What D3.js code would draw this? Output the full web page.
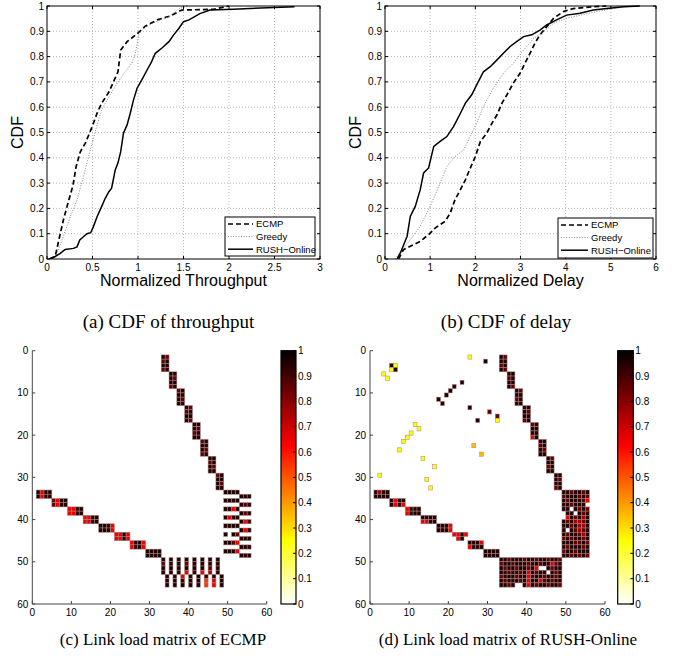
<!DOCTYPE html>
<html>
<head>
<meta charset="utf-8">
<script src="https://cdn.jsdelivr.net/npm/d3@7"></script>
<style>
body { margin: 0; background: #fff; }
svg text { font-family: "Liberation Sans", Arial, Helvetica, sans-serif; fill: #000; }
svg text.cap { font-family: "Liberation Serif", "Times New Roman", serif; }
</style>
</head>
<body>
<svg id="fig" width="678" height="656"></svg>
<script>
'use strict'

// ---- CDF data, [value, F(value)] ----
const tpEcmp = [[0.03,0],[0.09,0.01],[0.13,0.075],[0.18,0.154],[0.24,0.233],[0.285,0.29],[0.32,0.365],[0.366,0.424],[0.42,0.457],[0.49,0.517],[0.55,0.576],[0.60,0.615],[0.68,0.66],[0.73,0.70],[0.78,0.74],[0.81,0.826],[0.88,0.859],[0.99,0.89],[1.08,0.92],[1.21,0.945],[1.35,0.96],[1.48,0.984],[1.83,0.987],[2.0,1]]
const tpGreedy = [[0.04,0],[0.09,0.005],[0.165,0.075],[0.256,0.167],[0.33,0.233],[0.40,0.325],[0.457,0.404],[0.505,0.47],[0.567,0.55],[0.60,0.59],[0.68,0.64],[0.77,0.695],[0.86,0.74],[0.93,0.773],[0.97,0.81],[1.01,0.89],[1.08,0.918],[1.21,0.94],[1.35,0.96],[1.45,0.99],[1.55,1]]
const tpRush = [[0.02,0],[0.09,0.01],[0.146,0.022],[0.2,0.038],[0.29,0.042],[0.33,0.048],[0.36,0.075],[0.40,0.088],[0.44,0.10],[0.48,0.104],[0.51,0.128],[0.55,0.167],[0.60,0.207],[0.64,0.24],[0.68,0.266],[0.71,0.28],[0.75,0.352],[0.78,0.38],[0.81,0.424],[0.84,0.497],[0.88,0.53],[0.915,0.576],[0.95,0.628],[0.99,0.675],[1.04,0.707],[1.10,0.747],[1.15,0.78],[1.19,0.813],[1.26,0.833],[1.34,0.859],[1.39,0.885],[1.45,0.912],[1.50,0.938],[1.56,0.945],[1.68,0.97],[1.79,0.984],[2.05,0.987],[2.23,0.99],[2.72,0.997]]

const dlEcmp = [[0.30,0],[0.41,0.037],[0.56,0.05],[0.78,0.07],[0.965,0.096],[1.11,0.122],[1.22,0.136],[1.33,0.149],[1.44,0.18],[1.55,0.234],[1.67,0.274],[1.78,0.313],[1.89,0.36],[2.0,0.405],[2.11,0.464],[2.25,0.497],[2.37,0.537],[2.48,0.57],[2.59,0.616],[2.70,0.649],[2.84,0.695],[2.99,0.734],[3.10,0.774],[3.21,0.813],[3.32,0.853],[3.43,0.886],[3.58,0.918],[3.73,0.951],[3.95,0.978],[4.17,0.99],[4.61,0.997],[4.9,1]]
const dlGreedy = [[0.23,0],[0.38,0.037],[0.56,0.076],[0.78,0.13],[1.0,0.208],[1.19,0.287],[1.37,0.366],[1.55,0.405],[1.74,0.43],[1.92,0.497],[2.03,0.537],[2.18,0.603],[2.40,0.675],[2.62,0.734],[2.84,0.774],[3.07,0.826],[3.29,0.872],[3.51,0.899],[3.73,0.932],[4.02,0.951],[4.32,0.964],[4.69,0.978],[5.06,0.99],[5.35,0.997],[5.64,1]]
const dlRush = [[0.265,0],[0.34,0.024],[0.49,0.09],[0.56,0.168],[0.67,0.208],[0.78,0.274],[0.855,0.34],[0.965,0.36],[1.08,0.445],[1.22,0.465],[1.37,0.484],[1.52,0.524],[1.67,0.576],[1.78,0.616],[1.92,0.649],[2.03,0.688],[2.18,0.74],[2.33,0.76],[2.48,0.787],[2.62,0.813],[2.77,0.84],[2.92,0.86],[3.07,0.879],[3.25,0.886],[3.43,0.905],[3.58,0.925],[3.80,0.945],[4.02,0.964],[4.32,0.971],[4.61,0.984],[4.91,0.99],[5.28,0.997],[5.64,1]]

const seriesNames = ["ECMP", "Greedy", "RUSH\u2212Online"]
const cdfTicks = d3.range(0, 1.01, 0.1)
const tpTicks = [0, 0.5, 1, 1.5, 2, 2.5, 3]
const dlTicks = [0, 1, 2, 3, 4, 5, 6]

// ---- link load matrices: runs of [row, first column, codes] ----
// code digit d = load in [d/10, (d+1)/10), "." = no load
const ecmpRuns = [
  [1,33,"98"],[2,33,"89"],[3,33,"99"],[4,33,"89"],
  [5,35,"99"],[6,35,"98"],[7,35,"99"],[8,35,"89"],
  [9,37,"89"],[10,37,"99"],[11,37,"98"],[12,37,"99"],
  [13,39,"98"],[14,39,"89"],[15,39,"99"],[16,39,"98"],
  [17,41,"99"],[18,41,"98"],[19,41,"89"],[20,41,"99"],
  [21,43,"89"],[22,43,"99"],[23,43,"98"],[24,43,"89"],
  [25,45,"99"],[26,45,"89"],[27,45,"98"],[28,45,"99"],
  [29,47,"89"],[30,47,"99"],[31,47,"98"],[32,47,"99"],
  [33,1,"9699"],[34,1,"9699"],[35,5,"8699"],[36,5,"8699"],
  [37,9,"6699"],[38,9,"6699"],[39,13,"6699"],[40,13,"6699"],
  [41,17,"9996"],[42,17,"9996"],[43,21,"6696"],[44,21,"6696"],
  [45,25,"6996"],[46,25,"6996"],[47,29,"9999"],[48,29,"9999"],
  [33,49,"9999"],[34,53,"999"],[35,49,"9999"],[36,53,"989"],
  [37,49,"9969"],[38,53,"989"],[39,49,"9699"],[40,53,"969"],
  [41,49,"9999"],[42,53,"969"],[43,49,"9.98"],[44,53,"999"],
  [45,49,"9986"],[46,53,"999"],[47,49,"9996"],[48,53,"999"],
  [49,33,"9.9.9.9.9.9.9.9"],[50,33,"8.9.9.8.9.9.9.9"],
  [51,33,"9.9.9.9.9.9.8.9"],[52,33,"9.9.9.6.9.6.7.9"],
  [53,34,"9.9.6.9.9.9.9.9"],[54,34,"9.9.9.9.9.5.6.9"],
  [55,34,"9.9.9.9.9.5.6.9"]
]
const rushRuns = [
  [1,25,"2"],[2,29,"9"],[3,5,"92"],[4,5,"29"],[5,3,"2"],[6,4,"2"],
  [7,23,"9"],[8,21,"9"],[9,20,"9"],[10,19,"9"],[11,17,"9"],[12,18,"9"],
  [13,25,"9"],[14,30,"8"],[15,32,"8"],[16,27,"9"],[16,32,"2"],
  [17,11,"2"],[18,12,"2"],[19,10,"2"],[20,9,"2"],[21,8,"2"],[22,26,"3"],
  [23,7,"2"],[24,28,"3"],[25,13,"2"],[27,16,"2"],[29,2,"2"],[30,14,"2"],[32,15,"2"],
  [1,33,"98"],[2,33,"99"],[3,33,"89"],[4,33,"98"],
  [5,35,"99"],[6,35,"89"],[7,35,"99"],[8,35,"98"],
  [9,37,"98"],[10,37,"99"],[11,37,"89"],[12,37,"99"],
  [13,39,"99"],[14,39,"98"],[15,39,"99"],[16,39,"89"],
  [17,41,"89"],[18,41,"99"],[19,41,"99"],[20,41,"69"],
  [21,43,"99"],[22,43,"89"],[23,43,"98"],[24,43,"99"],
  [25,45,"98"],[26,45,"99"],[27,45,"89"],[28,45,"99"],
  [29,47,"99"],[30,47,"98"],[31,47,"99"],[32,47,"89"],
  [33,1,"9799"],[34,1,"9999"],[35,5,"9699"],[36,5,"9696"],
  [37,9,"6999"],[38,9,"6999"],[39,13,"9999"],[40,13,"6699"],
  [41,17,"9996"],[42,17,"9996"],[43,21,"6696"],[44,22,"69"],
  [45,25,"9996"],[46,25,"6999"],[47,29,"9999"],[48,29,"9999"],
  [33,49,"9989989"],[34,49,"8999898"],[35,49,"9899986"],[36,49,"998999."],
  [37,49,"99.9898"],[38,49,".99.989"],[39,49,".698979"],[40,49,"9897789"],
  [41,49,"9989779"],[42,49,"9.98789"],[43,49,"9899879"],[44,49,"8989989"],
  [45,49,"9998898"],[46,49,"9899989"],[47,49,"8998999"],[48,49,"9989898"],
  [49,33,"9989998998998998"],[50,33,"8998999899899689"],
  [51,33,"9899899896..9899"],[52,33,"998998969899.989"],
  [53,33,"8999899689989989"],[54,33,"9899989699689899"],
  [55,33,"9989..9698998998"]
]
const matTicks = [0, 10, 20, 30, 40, 50, 60]
const barTicks = d3.range(0, 1.01, 0.1)

const svg = d3.select("#fig")
svg.append("rect").attr("width", 678).attr("height", 656).attr("fill", "#fff")

const fmt = d => String(+d.toFixed(1))

// reversed MATLAB "hot": 0 -> white, 1 -> black
function hotR(v) {
  const t = 1 - v
  const c = x => Math.max(0, Math.min(1, x))
  return d3.rgb(255 * c(t / 0.375), 255 * c((t - 0.375) / 0.375), 255 * c((t - 0.75) / 0.25)).toString()
}

const lineStyles = [
  {dash: "5,3", width: 1.7, color: "#000"},
  {dash: "1,1.6", width: 0.9, color: "#777"},
  {dash: null, width: 1.5, color: "#000"}
]

function drawCdf(o) {
  const x = d3.scaleLinear().domain(o.domain).range([o.x0, o.x1])
  const y = d3.scaleLinear().domain([0, 1]).range([o.y1, o.y0])
  const g = svg.append("g")

  // grid
  g.selectAll(".gx").data(o.ticks.slice(1, -1)).enter().append("line")
    .attr("x1", d => x(d)).attr("x2", d => x(d)).attr("y1", o.y0).attr("y2", o.y1)
    .attr("stroke", "#999").attr("stroke-width", 0.7).attr("stroke-dasharray", "1,2")
  g.selectAll(".gy").data(cdfTicks.slice(1, -1)).enter().append("line")
    .attr("y1", d => y(d)).attr("y2", d => y(d)).attr("x1", o.x0).attr("x2", o.x1)
    .attr("stroke", "#999").attr("stroke-width", 0.7).attr("stroke-dasharray", "1,2")

  // curves
  const clipId = "clip" + o.id
  svg.append("clipPath").attr("id", clipId).append("rect")
    .attr("x", o.x0).attr("y", o.y0 - 2).attr("width", o.x1 - o.x0).attr("height", o.y1 - o.y0 + 2)
  const line = d3.line().x(d => x(d[0])).y(d => y(d[1]))
  o.series.forEach((s, i) => {
    const st = lineStyles[i]
    g.append("path").attr("d", line(s)).attr("fill", "none")
      .attr("clip-path", "url(#" + clipId + ")")
      .attr("stroke", st.color).attr("stroke-width", st.width)
      .attr("stroke-dasharray", st.dash)
  })

  // box + ticks
  g.append("rect").attr("x", o.x0).attr("y", o.y0).attr("width", o.x1 - o.x0).attr("height", o.y1 - o.y0)
    .attr("fill", "none").attr("stroke", "#000").attr("stroke-width", 1)
  o.ticks.forEach(t => {
    g.append("line").attr("x1", x(t)).attr("x2", x(t)).attr("y1", o.y1).attr("y2", o.y1 - 3).attr("stroke", "#000")
    g.append("line").attr("x1", x(t)).attr("x2", x(t)).attr("y1", o.y0).attr("y2", o.y0 + 3).attr("stroke", "#000")
    g.append("text").attr("x", x(t)).attr("y", o.y1 + 12).attr("text-anchor", "middle")
      .attr("font-size", 10).text(fmt(t))
  })
  cdfTicks.forEach(t => {
    g.append("line").attr("y1", y(t)).attr("y2", y(t)).attr("x1", o.x0).attr("x2", o.x0 + 3).attr("stroke", "#000")
    g.append("line").attr("y1", y(t)).attr("y2", y(t)).attr("x1", o.x1).attr("x2", o.x1 - 3).attr("stroke", "#000")
    g.append("text").attr("x", o.x0 - 3).attr("y", y(t) + 3.5).attr("text-anchor", "end")
      .attr("font-size", 10).text(fmt(t))
  })

  g.append("text").attr("transform", "translate(" + o.ylabX + "," + ((o.y0 + o.y1) / 2) + ") rotate(-90)")
    .attr("text-anchor", "middle").attr("font-size", 16).text("CDF")
  g.append("text").attr("x", (o.x0 + o.x1) / 2).attr("y", o.y1 + 27).attr("text-anchor", "middle")
    .attr("font-size", 16).text(o.xlabel)

  // legend
  const L = o.legend
  g.append("rect").attr("x", L.x).attr("y", L.y).attr("width", L.w).attr("height", L.h)
    .attr("fill", "#fff").attr("stroke", "#000").attr("stroke-width", 1)
  seriesNames.forEach((n, i) => {
    const st = lineStyles[i]
    const ly = L.y + 7 + i * 12.6
    g.append("line").attr("x1", L.x + 3).attr("x2", L.x + L.lw).attr("y1", ly).attr("y2", ly)
      .attr("stroke", st.color).attr("stroke-width", st.width).attr("stroke-dasharray", st.dash)
    g.append("text").attr("x", L.x + L.lw + 3).attr("y", ly + 3.4).attr("font-size", 9.5).text(n)
  })
}

function drawMatrix(o) {
  const x = d3.scaleLinear().domain([0, 60]).range([o.x0, o.x1])
  const y = d3.scaleLinear().domain([0, 60]).range([o.y0, o.y1])
  const g = svg.append("g")
  const cells = []
  o.runs.forEach(([r, c, codes]) => {
    codes.split("").forEach((ch, i) => {
      if (ch !== ".") cells.push({r: r, c: c + i, v: (+ch + 0.5) / 10})
    })
  })
  g.selectAll("rect.cell").data(cells).enter().append("rect")
    .attr("class", "cell")
    .attr("x", d => x(d.c)).attr("y", d => y(d.r))
    .attr("width", d => x(d.c + 1) - x(d.c)).attr("height", d => y(d.r + 1) - y(d.r))
    .attr("fill", d => hotR(d.v))
    .attr("stroke", "#a88484").attr("stroke-width", 0.5)

  // axes (left + bottom only)
  g.append("line").attr("x1", o.x0).attr("x2", o.x0).attr("y1", o.y0).attr("y2", o.y1).attr("stroke", "#444").attr("stroke-width", 1)
  g.append("line").attr("x1", o.x0).attr("x2", o.x1).attr("y1", o.y1).attr("y2", o.y1).attr("stroke", "#444").attr("stroke-width", 1)
  matTicks.forEach(t => {
    g.append("line").attr("x1", o.x0).attr("x2", o.x0 + 3).attr("y1", y(t)).attr("y2", y(t)).attr("stroke", "#444")
    g.append("text").attr("x", o.x0 - 4).attr("y", y(t) + 3.5).attr("text-anchor", "end").attr("font-size", 10).text(t)
    g.append("line").attr("x1", x(t)).attr("x2", x(t)).attr("y1", o.y1).attr("y2", o.y1 - 3).attr("stroke", "#444")
    g.append("text").attr("x", x(t)).attr("y", o.y1 + 12).attr("text-anchor", "middle").attr("font-size", 10).text(t)
  })

  // colorbar
  const gid = "grad" + o.id
  const grad = svg.append("defs").append("linearGradient").attr("id", gid)
    .attr("x1", 0).attr("y1", 1).attr("x2", 0).attr("y2", 0)
  d3.range(0, 1.001, 0.025).forEach(v => grad.append("stop").attr("offset", v).attr("stop-color", hotR(v)))
  const cy = d3.scaleLinear().domain([0, 1]).range([o.y1, o.y0])
  g.append("rect").attr("x", o.bx).attr("y", o.y0).attr("width", o.bw).attr("height", o.y1 - o.y0)
    .attr("fill", "url(#" + gid + ")").attr("stroke", "#000").attr("stroke-width", 1.2)
  barTicks.forEach(t => {
    g.append("line").attr("x1", o.bx + o.bw).attr("x2", o.bx + o.bw - 3).attr("y1", cy(t)).attr("y2", cy(t)).attr("stroke", "#000")
    g.append("text").attr("x", o.bx + o.bw + 2).attr("y", cy(t) + 3.5).attr("font-size", 10).text(fmt(t))
  })
}

drawCdf({id: "a", domain: [0, 3], ticks: tpTicks, x0: 47, x1: 320, y0: 6, y1: 259, ylabX: 23,
  series: [tpEcmp, tpGreedy, tpRush], xlabel: "Normalized Throughput",
  legend: {x: 225, y: 217, w: 90, h: 39, lw: 28}})
drawCdf({id: "b", domain: [0, 6], ticks: dlTicks, x0: 385, x1: 656, y0: 6, y1: 259, ylabX: 361,
  series: [dlEcmp, dlGreedy, dlRush], xlabel: "Normalized Delay",
  legend: {x: 558, y: 218, w: 95, h: 40, lw: 30}})

drawMatrix({id: "c", runs: ecmpRuns, x0: 32.3, x1: 266.7, y0: 350.7, y1: 604, bx: 281, bw: 15})
drawMatrix({id: "d", runs: rushRuns, x0: 370, x1: 605, y0: 350.7, y1: 604, bx: 617.7, bw: 15.6})

const captions = [
  {x: 168.5, y: 328, s: 19, t: "(a) CDF of throughput"},
  {x: 506, y: 328, s: 19, t: "(b) CDF of delay"},
  {x: 163, y: 645, s: 17, t: "(c) Link load matrix of ECMP"},
  {x: 508, y: 645, s: 17, t: "(d) Link load matrix of RUSH-Online"}
]
svg.selectAll("text.cap").data(captions).enter().append("text")
  .attr("class", "cap").attr("x", d => d.x).attr("y", d => d.y)
  .attr("text-anchor", "middle").attr("font-size", d => d.s).text(d => d.t)
</script>
</body>
</html>
